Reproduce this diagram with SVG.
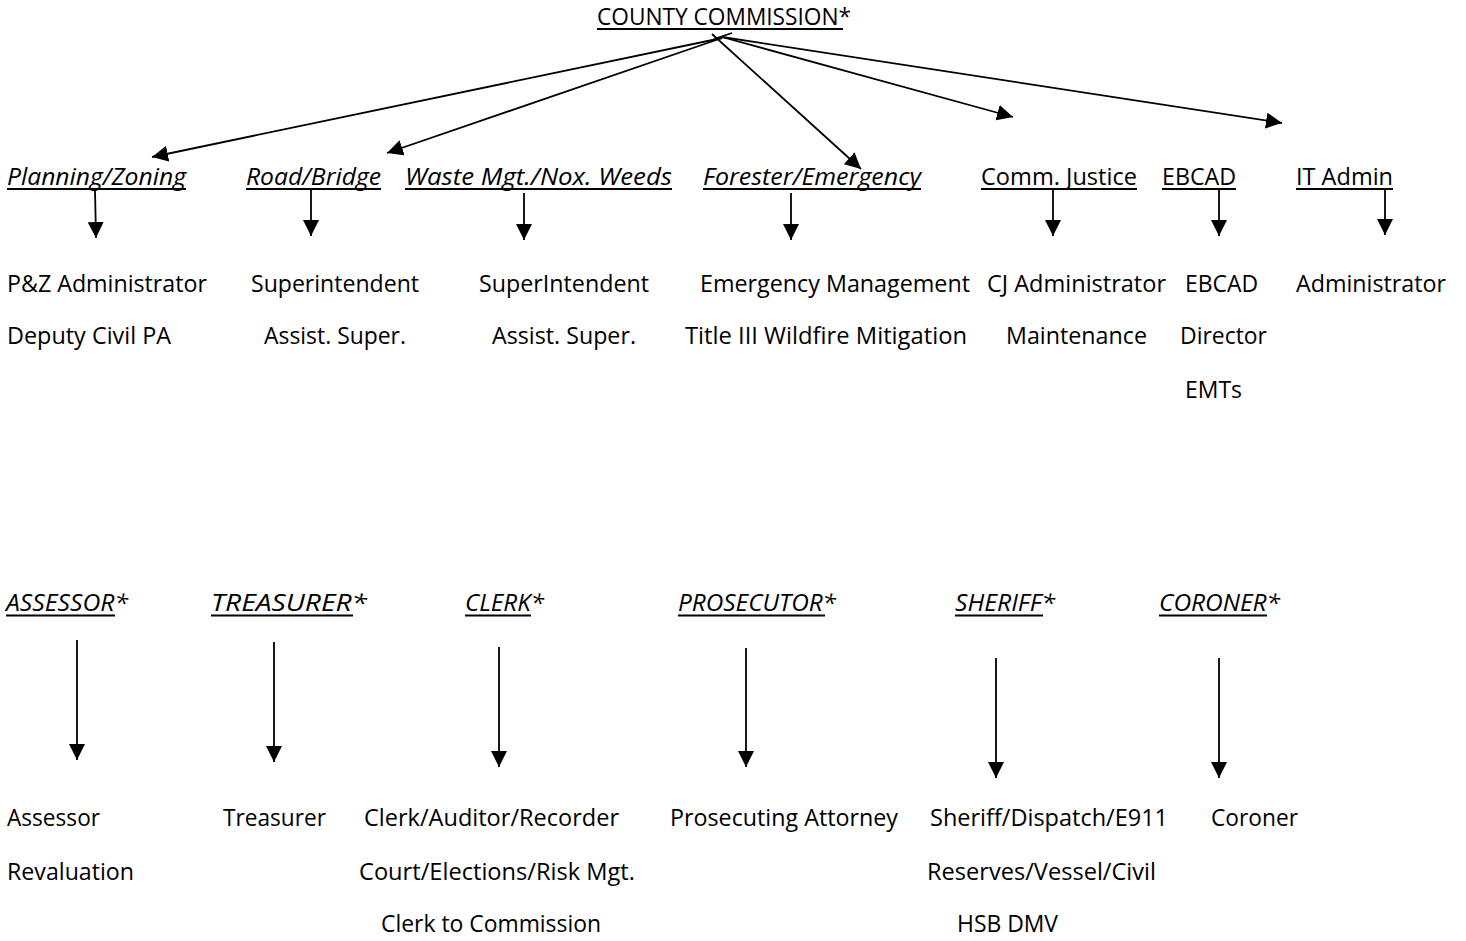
<svg xmlns="http://www.w3.org/2000/svg" width="1466" height="941" viewBox="0 0 1466 941">
<style>
text{font-family:"Open Sans",Lato,"Liberation Sans",sans-serif;font-size:24px;fill:#000}
.it{font-style:italic}
.ul{stroke:#000;stroke-width:2}
.cn{stroke:#000;stroke-width:1.8;fill:none}
</style>
<defs>
<marker id="ah" markerUnits="userSpaceOnUse" markerWidth="16" markerHeight="16" viewBox="0 0 16 16" refX="16" refY="8" orient="auto">
<path d="M0,0 L16,8 L0,16 Z" fill="#000"/>
</marker>
</defs>
<rect width="1466" height="941" fill="#fff"/>

<g id="connectors">
<line class="cn" x1="722" y1="38" x2="152" y2="157" marker-end="url(#ah)"/>
<line class="cn" x1="722" y1="38" x2="387" y2="153" marker-end="url(#ah)"/>
<line class="cn" x1="712" y1="34" x2="861" y2="169" marker-end="url(#ah)"/>
<line class="cn" x1="722" y1="37" x2="1013" y2="117" marker-end="url(#ah)"/>
<line class="cn" x1="722" y1="37" x2="1282" y2="123" marker-end="url(#ah)"/>
<line class="cn" x1="714" y1="39" x2="732" y2="33"/>
<line class="cn" x1="95" y1="190" x2="96" y2="238" marker-end="url(#ah)"/>
<line class="cn" x1="311" y1="190" x2="311" y2="236" marker-end="url(#ah)"/>
<line class="cn" x1="524" y1="193" x2="524" y2="240" marker-end="url(#ah)"/>
<line class="cn" x1="791" y1="193" x2="791" y2="240" marker-end="url(#ah)"/>
<line class="cn" x1="1053" y1="190" x2="1053" y2="236" marker-end="url(#ah)"/>
<line class="cn" x1="1219" y1="190" x2="1219" y2="236" marker-end="url(#ah)"/>
<line class="cn" x1="1385" y1="188" x2="1385" y2="235" marker-end="url(#ah)"/>
<line class="cn" x1="77" y1="640" x2="77" y2="760" marker-end="url(#ah)"/>
<line class="cn" x1="274" y1="642" x2="274" y2="762" marker-end="url(#ah)"/>
<line class="cn" x1="499" y1="647" x2="499" y2="767" marker-end="url(#ah)"/>
<line class="cn" x1="746" y1="648" x2="746" y2="767" marker-end="url(#ah)"/>
<line class="cn" x1="996" y1="658" x2="996" y2="778" marker-end="url(#ah)"/>
<line class="cn" x1="1219" y1="658" x2="1219" y2="778" marker-end="url(#ah)"/>
</g>

<g id="commission">
<text x="597" y="25" textLength="254" lengthAdjust="spacingAndGlyphs">COUNTY COMMISSION*</text>
<line class="ul" x1="597" y1="29" x2="843" y2="29"/>
</g>

<g id="planning">
<text class="it" x="7" y="185" textLength="179" lengthAdjust="spacingAndGlyphs">Planning/Zoning</text>
<line class="ul" x1="7" y1="189" x2="186" y2="189"/>
<text x="7" y="292" textLength="200" lengthAdjust="spacingAndGlyphs">P&amp;Z Administrator</text>
<text x="7" y="344" textLength="164" lengthAdjust="spacingAndGlyphs">Deputy Civil PA</text>
</g>

<g id="road">
<text class="it" x="246" y="185" textLength="135" lengthAdjust="spacingAndGlyphs">Road/Bridge</text>
<line class="ul" x1="246" y1="189" x2="381" y2="189"/>
<text x="251" y="292" textLength="168" lengthAdjust="spacingAndGlyphs">Superintendent</text>
<text x="264" y="344" textLength="142" lengthAdjust="spacingAndGlyphs">Assist. Super.</text>
</g>

<g id="waste">
<text class="it" x="405" y="185" textLength="267" lengthAdjust="spacingAndGlyphs">Waste Mgt./Nox. Weeds</text>
<line class="ul" x1="405" y1="189" x2="672" y2="189"/>
<text x="479" y="292" textLength="170" lengthAdjust="spacingAndGlyphs">SuperIntendent</text>
<text x="492" y="344" textLength="144" lengthAdjust="spacingAndGlyphs">Assist. Super.</text>
</g>

<g id="forester">
<text class="it" x="703" y="185" textLength="218" lengthAdjust="spacingAndGlyphs">Forester/Emergency</text>
<line class="ul" x1="703" y1="189" x2="921" y2="189"/>
<text x="700" y="292" textLength="270" lengthAdjust="spacingAndGlyphs">Emergency Management</text>
<text x="685" y="344" textLength="282" lengthAdjust="spacingAndGlyphs">Title III Wildfire Mitigation</text>
</g>

<g id="justice">
<text x="981" y="185" textLength="156" lengthAdjust="spacingAndGlyphs">Comm. Justice</text>
<line class="ul" x1="981" y1="189" x2="1137" y2="189"/>
<text x="987" y="292" textLength="179" lengthAdjust="spacingAndGlyphs">CJ Administrator</text>
<text x="1006" y="344" textLength="141" lengthAdjust="spacingAndGlyphs">Maintenance</text>
</g>

<g id="ebcad">
<text x="1162" y="185" textLength="74" lengthAdjust="spacingAndGlyphs">EBCAD</text>
<line class="ul" x1="1162" y1="189" x2="1236" y2="189"/>
<text x="1185" y="292" textLength="73" lengthAdjust="spacingAndGlyphs">EBCAD</text>
<text x="1180" y="344" textLength="87" lengthAdjust="spacingAndGlyphs">Director</text>
<text x="1185" y="398" textLength="57" lengthAdjust="spacingAndGlyphs">EMTs</text>
</g>

<g id="itadmin">
<text x="1296" y="185" textLength="97" lengthAdjust="spacingAndGlyphs">IT Admin</text>
<line class="ul" x1="1296" y1="189" x2="1393" y2="189"/>
<text x="1296" y="292" textLength="150" lengthAdjust="spacingAndGlyphs">Administrator</text>
</g>

<g id="assessor">
<text class="it" x="6" y="611" textLength="122" lengthAdjust="spacingAndGlyphs">ASSESSOR*</text>
<line class="ul" x1="6" y1="615.5" x2="115" y2="615.5"/>
<text x="7" y="826" textLength="93" lengthAdjust="spacingAndGlyphs">Assessor</text>
<text x="7" y="880" textLength="127" lengthAdjust="spacingAndGlyphs">Revaluation</text>
</g>

<g id="treasurer">
<text class="it" x="211" y="611" textLength="156" lengthAdjust="spacingAndGlyphs">TREASURER*</text>
<line class="ul" x1="211" y1="615.5" x2="353" y2="615.5"/>
<text x="223" y="826" textLength="103" lengthAdjust="spacingAndGlyphs">Treasurer</text>
</g>

<g id="clerk">
<text class="it" x="465" y="611" textLength="79" lengthAdjust="spacingAndGlyphs">CLERK*</text>
<line class="ul" x1="465" y1="615.5" x2="531" y2="615.5"/>
<text x="364" y="826" textLength="255" lengthAdjust="spacingAndGlyphs">Clerk/Auditor/Recorder</text>
<text x="359" y="880" textLength="276" lengthAdjust="spacingAndGlyphs">Court/Elections/Risk Mgt.</text>
<text x="381" y="932" textLength="220" lengthAdjust="spacingAndGlyphs">Clerk to Commission</text>
</g>

<g id="prosecutor">
<text class="it" x="678" y="611" textLength="158" lengthAdjust="spacingAndGlyphs">PROSECUTOR*</text>
<line class="ul" x1="678" y1="615.5" x2="825" y2="615.5"/>
<text x="670" y="826" textLength="228" lengthAdjust="spacingAndGlyphs">Prosecuting Attorney</text>
</g>

<g id="sheriff">
<text class="it" x="955" y="611" textLength="100" lengthAdjust="spacingAndGlyphs">SHERIFF*</text>
<line class="ul" x1="955" y1="615.5" x2="1043" y2="615.5"/>
<text x="930" y="826" textLength="238" lengthAdjust="spacingAndGlyphs">Sheriff/Dispatch/E911</text>
<text x="927" y="880" textLength="229" lengthAdjust="spacingAndGlyphs">Reserves/Vessel/Civil</text>
<text x="957" y="932" textLength="101" lengthAdjust="spacingAndGlyphs">HSB DMV</text>
</g>

<g id="coroner">
<text class="it" x="1159" y="611" textLength="121" lengthAdjust="spacingAndGlyphs">CORONER*</text>
<line class="ul" x1="1159" y1="615.5" x2="1267" y2="615.5"/>
<text x="1211" y="826" textLength="87" lengthAdjust="spacingAndGlyphs">Coroner</text>
</g>
</svg>
